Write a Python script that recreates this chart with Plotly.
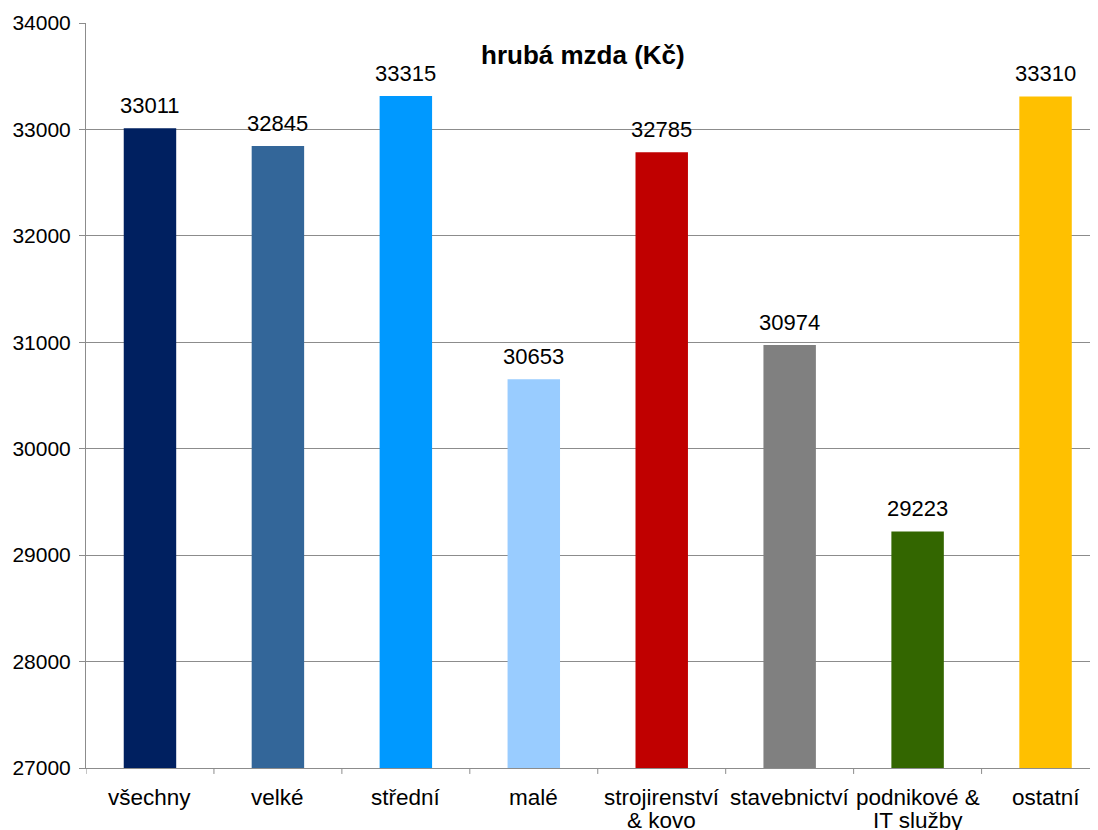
import plotly.graph_objects as go

categories = ["všechny", "velké", "střední", "malé", "strojirenství<br>& kovo",
              "stavebnictví", "podnikové &<br>IT služby", "ostatní"]
values = [33011, 32845, 33315, 30653, 32785, 30974, 29223, 33310]
colors = ["#002060", "#336699", "#0099FF", "#99CCFF", "#C00000", "#808080", "#336600", "#FFC000"]
y_ticks = [27000, 28000, 29000, 30000, 31000, 32000, 33000, 34000]

font_family = "Liberation Sans, Arial, sans-serif"
xs = list(range(len(categories)))

fig = go.Figure(go.Bar(
    x=xs,
    y=values,
    marker=dict(color=colors, line=dict(width=0)),
    width=0.41,
    cliponaxis=False,
))

# value labels above bars
annotations = [dict(
    text=str(v), x=x, y=v, xref="x", yref="y", yanchor="bottom",
    showarrow=False, yshift=8,
    font=dict(family=font_family, size=22, color="#000000"),
) for x, v in zip(xs, values)]

# category labels (tight line spacing, as in the reference)
for x, cat in zip(xs, categories):
    for li, line in enumerate(cat.split("<br>")):
        annotations.append(dict(
            text=line, x=x, y=0, xref="x", yref="paper",
            xanchor="center", yanchor="middle", showarrow=False,
            borderpad=0,
            yshift=-29 - 23 * li,
            font=dict(family=font_family, size=22.5, color="#000000"),
        ))

annotations.append(dict(
    text="<b>hrubá mzda (Kč)</b>", xref="paper", yref="paper",
    x=0.491, y=0.957, xanchor="center", yanchor="middle", showarrow=False,
    font=dict(family=font_family, size=26, color="#000000"),
))

fig.update_layout(
    width=1090, height=822,
    margin=dict(l=78, r=0, t=15, b=62),
    plot_bgcolor="white", paper_bgcolor="white",
    showlegend=False,
    font=dict(family=font_family, size=22, color="#000000"),
    xaxis=dict(
        tickmode="array", tickvals=xs, showticklabels=False,
        range=[-0.5, 7.41], automargin=False,
        showgrid=False, showline=True, linecolor="#8c8c8c", linewidth=1,
        ticks="",
    ),
    yaxis=dict(
        range=[27000, 34000], tickvals=y_ticks, tickformat="d", automargin=False,
        showgrid=True, gridcolor="#8c8c8c", gridwidth=1,
        showline=True, linecolor="#8c8c8c", linewidth=1,
        ticks="outside", ticklen=6, tickcolor="#8c8c8c",
        tickfont=dict(size=21), zeroline=False, ticklabelstandoff=4,
    ),
    annotations=annotations,
)

# category boundary tick marks on x axis
for b in [i + 0.5 for i in range(-1, len(categories))]:
    fig.add_shape(type="line", xref="x", yref="paper", x0=b, x1=b, y0=0, y1=-0.008,
                  line=dict(color="#8c8c8c", width=1))

fig.write_html("out.html")
